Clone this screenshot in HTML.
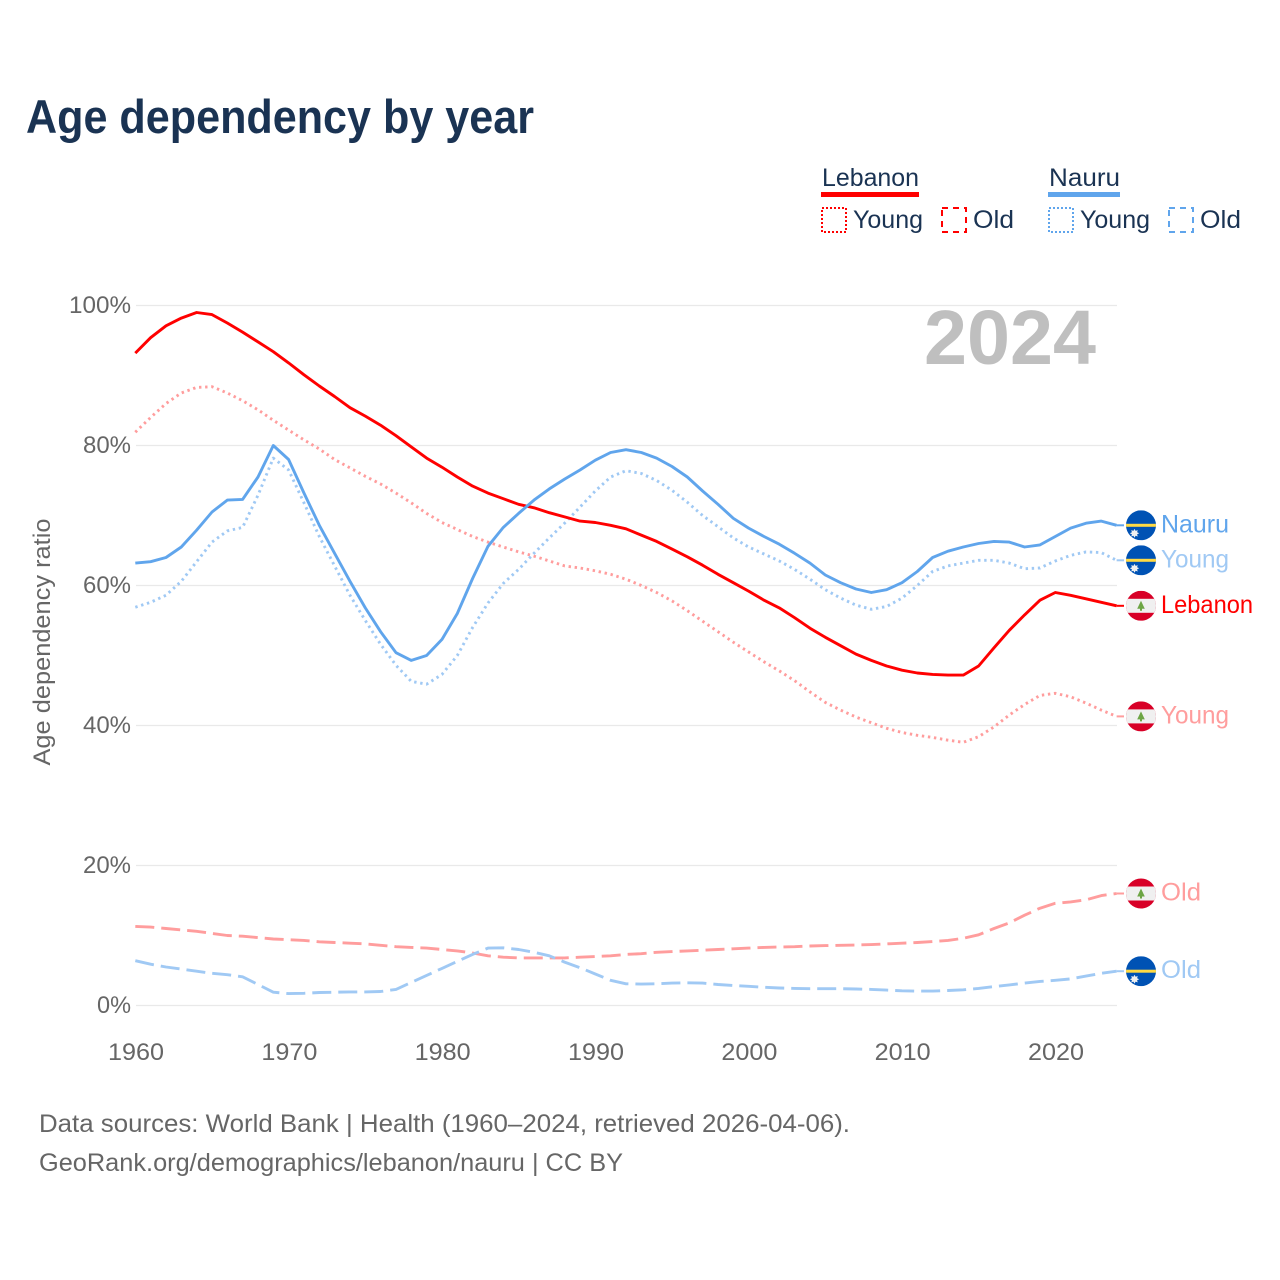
<!DOCTYPE html>
<html lang="en">
<head>
<meta charset="utf-8">
<title>Age dependency by year</title>
<style>
html,body{margin:0;padding:0;background:#fff}
svg{display:block}
text{font-family:"Liberation Sans",sans-serif}
</style>
</head>
<body>
<svg id="chart" xmlns="http://www.w3.org/2000/svg" width="1280" height="1280" viewBox="0 0 1280 1280">
  <defs>
    <clipPath id="flag-clip"><circle cx="0" cy="0" r="15"></circle></clipPath>
    <g id="flag-nauru" clip-path="url(#flag-clip)">
      <rect x="-15" y="-15" width="30" height="30" fill="#0052b4"></rect>
      <rect x="-15" y="-1.5" width="30" height="3" fill="#ffda44"></rect>
      <polygon fill="#f0f0f0" points="-6.5,3.6 -5.4,5.6 -3.3,4.8 -3.9,7 -1.8,8 -3.9,9 -3.3,11.2 -5.4,10.4 -6.5,12.4 -7.6,10.4 -9.7,11.2 -9.1,9 -11.2,8 -9.1,7 -9.7,4.8 -7.6,5.6"></polygon>
    </g>
    <g id="flag-lebanon" clip-path="url(#flag-clip)">
      <rect x="-15" y="-15" width="30" height="30" fill="#d80027"></rect>
      <rect x="-15" y="-7" width="30" height="14" fill="#f0f0f0"></rect>
      <polygon fill="#6da544" points="0,-5 3.8,3 1,3 1,5 -1,5 -1,3 -3.8,3"></polygon>
    </g>
  </defs>

  <rect x="0" y="0" width="1280" height="1280" fill="#ffffff"></rect>

  <text x="26" y="133" font-size="47" font-weight="700" fill="#1a3353" textLength="508" lengthAdjust="spacingAndGlyphs">Age dependency by year</text>

  <g>
    <g>
      <text x="822" y="186" font-size="25" fill="#1a3353" textLength="97" lengthAdjust="spacingAndGlyphs">Lebanon</text>
      <rect x="821" y="192" width="98" height="5" fill="#ff0000"></rect>
      <rect x="822" y="208" width="24" height="24" fill="none" stroke="#ff0000" stroke-width="2" stroke-dasharray="2 2"></rect>
      <text x="853" y="228" font-size="25" fill="#1a3353" textLength="70" lengthAdjust="spacingAndGlyphs">Young</text>
      <rect x="942" y="208" width="24" height="24" fill="none" stroke="#ff0000" stroke-width="2" stroke-dasharray="6 5"></rect>
      <text x="973" y="228" font-size="25" fill="#1a3353" textLength="41" lengthAdjust="spacingAndGlyphs">Old</text>
    </g>
    <g>
      <text x="1049" y="186" font-size="25" fill="#1a3353" textLength="71" lengthAdjust="spacingAndGlyphs">Nauru</text>
      <rect x="1048" y="192" width="72" height="5" fill="#60a5ec"></rect>
      <rect x="1049" y="208" width="24" height="24" fill="none" stroke="#60a5ec" stroke-width="2" stroke-dasharray="2 2"></rect>
      <text x="1080" y="228" font-size="25" fill="#1a3353" textLength="70" lengthAdjust="spacingAndGlyphs">Young</text>
      <rect x="1169" y="208" width="24" height="24" fill="none" stroke="#60a5ec" stroke-width="2" stroke-dasharray="6 5"></rect>
      <text x="1200" y="228" font-size="25" fill="#1a3353" textLength="41" lengthAdjust="spacingAndGlyphs">Old</text>
    </g>
  </g>

  <g id="grid"></g>
  <g id="y-ticks"></g>
  <g id="x-ticks"></g>

  <text transform="translate(50,642) rotate(-90)" text-anchor="middle" font-size="24" fill="#666666" textLength="247" lengthAdjust="spacingAndGlyphs">Age dependency ratio</text>

  <text x="924" y="364" font-size="77" font-weight="700" fill="#bfbfbf" textLength="172" lengthAdjust="spacingAndGlyphs">2024</text>

  <g id="series"></g>
  <g id="end-labels"></g>

  <text x="39" y="1132" font-size="25" fill="#666666" textLength="811" lengthAdjust="spacingAndGlyphs">Data sources: World Bank | Health (1960–2024, retrieved 2026-04-06).</text>
  <text x="39" y="1171" font-size="25" fill="#666666" textLength="584" lengthAdjust="spacingAndGlyphs">GeoRank.org/demographics/lebanon/nauru | CC BY</text>
</svg>

<script>
const startYear = 1960;
const xTickLabels = [1960, 1970, 1980, 1990, 2000, 2010, 2020];
const yTickValues = [0, 20, 40, 60, 80, 100];
const lebanonTotal = [93.2,95.4,97.1,98.2,99.0,98.7,97.5,96.2,94.8,93.4,91.8,90.1,88.5,87.0,85.4,84.2,82.9,81.4,79.8,78.2,76.9,75.5,74.2,73.2,72.4,71.6,71.1,70.4,69.8,69.2,69.0,68.6,68.1,67.2,66.3,65.2,64.1,62.9,61.6,60.4,59.2,57.9,56.8,55.4,53.9,52.6,51.4,50.2,49.3,48.5,47.9,47.5,47.3,47.2,47.2,48.5,51.1,53.6,55.8,57.9,59.0,58.6,58.1,57.6,57.1];
const lebanonYoung = [81.9,84.0,86.0,87.5,88.3,88.4,87.5,86.4,85.1,83.6,82.2,80.8,79.5,78.0,76.8,75.6,74.5,73.2,71.8,70.3,69.0,68.0,67.0,66.2,65.5,64.8,64.2,63.5,62.8,62.5,62.1,61.6,60.9,60.0,59.0,57.8,56.4,54.9,53.4,51.9,50.5,49.1,47.8,46.4,44.8,43.3,42.2,41.2,40.4,39.6,39.0,38.6,38.3,37.9,37.6,38.4,39.8,41.5,43.0,44.3,44.6,44.1,43.2,42.2,41.3];
const lebanonOld = [11.3,11.2,11.0,10.8,10.6,10.3,10.0,9.9,9.7,9.5,9.4,9.3,9.1,9.0,8.9,8.8,8.6,8.4,8.3,8.2,8.0,7.8,7.5,7.1,6.9,6.8,6.8,6.8,6.8,6.9,7.0,7.1,7.3,7.4,7.6,7.7,7.8,7.9,8.0,8.1,8.2,8.3,8.35,8.4,8.5,8.55,8.6,8.65,8.7,8.8,8.9,9.0,9.15,9.3,9.6,10.1,11.0,11.8,12.9,13.9,14.6,14.8,15.1,15.7,16.0];
const nauruTotal = [63.2,63.4,64.0,65.5,67.9,70.5,72.2,72.3,75.5,80.0,78.0,73.2,68.6,64.6,60.6,56.8,53.4,50.4,49.3,50.0,52.3,56.0,61.0,65.6,68.3,70.3,72.2,73.8,75.2,76.5,77.9,79.0,79.4,79.0,78.2,77.0,75.5,73.5,71.6,69.6,68.2,67.0,65.9,64.6,63.2,61.5,60.4,59.5,59.0,59.4,60.4,62.0,64.0,64.9,65.5,66.0,66.3,66.2,65.5,65.8,67.0,68.2,68.9,69.2,68.6];
const nauruYoung = [56.9,57.6,58.6,60.6,63.4,66.2,67.8,68.3,72.9,78.2,76.5,71.8,67.0,62.8,58.6,55.0,51.6,48.6,46.3,45.9,47.3,50.0,54.0,57.5,60.3,62.3,64.6,66.8,68.9,71.2,73.5,75.5,76.4,76.0,75.0,73.6,71.9,70.0,68.4,66.8,65.5,64.5,63.5,62.3,60.9,59.4,58.2,57.2,56.6,57.0,58.2,60.0,62.0,62.8,63.2,63.6,63.6,63.2,62.4,62.5,63.5,64.3,64.8,64.7,63.6];
const nauruOld = [6.4,5.9,5.5,5.2,4.9,4.6,4.4,4.1,3.0,1.9,1.7,1.75,1.85,1.9,1.95,1.95,2.0,2.3,3.3,4.3,5.3,6.3,7.3,8.2,8.25,8.0,7.6,7.1,6.2,5.4,4.5,3.6,3.1,3.05,3.1,3.2,3.25,3.2,3.0,2.85,2.75,2.6,2.5,2.45,2.4,2.4,2.4,2.35,2.3,2.2,2.1,2.05,2.05,2.15,2.25,2.45,2.7,2.95,3.2,3.45,3.6,3.8,4.2,4.6,4.9];

const NS = 'http://www.w3.org/2000/svg';
const xScale = function (year) { return 135.3 + (year - 1960) * 15.3333; };
const yScale = function (value) { return 1005.5 - value * 7; };
const make = function (tag, parent) {
  const node = document.createElementNS(NS, tag);
  parent.appendChild(node);
  return node;
};

const gridGroup = document.getElementById('grid');
const yTickGroup = document.getElementById('y-ticks');
const xTickGroup = document.getElementById('x-ticks');
const seriesGroup = document.getElementById('series');
const labelGroup = document.getElementById('end-labels');

yTickValues.forEach(function (value) {
  const line = make('line', gridGroup);
  
  
  line.setAttribute('x1', 136);
  line.setAttribute('x2', 1117);
  line.setAttribute('y1', yScale(value));
  line.setAttribute('y2', yScale(value));
  line.setAttribute('stroke', '#e9e9e9');
  line.setAttribute('stroke-width', 1.3);

  const label = make('text', yTickGroup);
  
  
  label.setAttribute('x', 131);
  label.setAttribute('y', yScale(value) + 7.5);
  label.setAttribute('text-anchor', 'end');
  label.setAttribute('font-size', 24);
  label.setAttribute('fill', '#666666');
  label.setAttribute('textLength', String(value).length * 14 + 20);
  label.setAttribute('lengthAdjust', 'spacingAndGlyphs');
  label.textContent = value + '%';
});

xTickLabels.forEach(function (year) {
  const label = make('text', xTickGroup);
  
  
  label.setAttribute('x', xScale(year) + 0.7);
  label.setAttribute('y', 1060);
  label.setAttribute('text-anchor', 'middle');
  label.setAttribute('font-size', 24);
  label.setAttribute('fill', '#666666');
  label.setAttribute('textLength', 56);
  label.setAttribute('lengthAdjust', 'spacingAndGlyphs');
  label.textContent = year;
});

const drawSeries = function (values, seriesName, color, dash, width) {
  const points = values.map(function (value, index) {
    return xScale(startYear + index).toFixed(1) + ',' + yScale(value).toFixed(1);
  });
  const path = make('polyline', seriesGroup);
  
  
  path.setAttribute('points', points.join(' '));
  path.setAttribute('fill', 'none');
  path.setAttribute('stroke', color);
  path.setAttribute('stroke-width', width);
  path.setAttribute('stroke-linejoin', 'round');
  if (dash) {
    path.setAttribute('stroke-dasharray', dash);
  }
};

const drawEndLabel = function (values, flagId, labelText, color, labelWidth) {
  const last = values[values.length - 1];
  const y = yScale(last);
  const stub = make('line', labelGroup);
  
  
  stub.setAttribute('x1', xScale(startYear + values.length - 1));
  stub.setAttribute('x2', 1124);
  stub.setAttribute('y1', y);
  stub.setAttribute('y2', y);
  stub.setAttribute('stroke', color);
  stub.setAttribute('stroke-width', 2);

  const flag = make('use', labelGroup);
  
  
  flag.setAttribute('href', '#' + flagId);
  flag.setAttribute('transform', 'translate(1141,' + y + ')');

  const label = make('text', labelGroup);
  
  
  label.setAttribute('x', 1161);
  label.setAttribute('y', y + 7);
  label.setAttribute('font-size', 25);
  label.setAttribute('fill', color);
  label.setAttribute('textLength', labelWidth);
  label.setAttribute('lengthAdjust', 'spacingAndGlyphs');
  label.textContent = labelText;
};

const redSolid = '#ff0000';
const redLight = '#ff9d9d';
const blueSolid = '#60a5ec';
const blueLight = '#a0c9f4';

drawSeries(lebanonYoung, 'lebanon-young-line', redLight, '2.4 3.7', 2.9);
drawSeries(lebanonOld, 'lebanon-old-line', redLight, '19 7', 2.9);
drawSeries(nauruYoung, 'nauru-young-line', blueLight, '2.4 3.7', 2.9);
drawSeries(nauruOld, 'nauru-old-line', blueLight, '19 7', 2.9);
drawSeries(lebanonTotal, 'lebanon-total-line', redSolid, '', 2.9);
drawSeries(nauruTotal, 'nauru-total-line', blueSolid, '', 2.9);

drawEndLabel(nauruTotal, 'flag-nauru', 'Nauru', blueSolid, 68);
drawEndLabel(nauruYoung, 'flag-nauru', 'Young', blueLight, 68);
drawEndLabel(lebanonTotal, 'flag-lebanon', 'Lebanon', redSolid, 92);
drawEndLabel(lebanonYoung, 'flag-lebanon', 'Young', redLight, 68);
drawEndLabel(lebanonOld, 'flag-lebanon', 'Old', redLight, 40);
drawEndLabel(nauruOld, 'flag-nauru', 'Old', blueLight, 40);
</script>
</body>
</html>
